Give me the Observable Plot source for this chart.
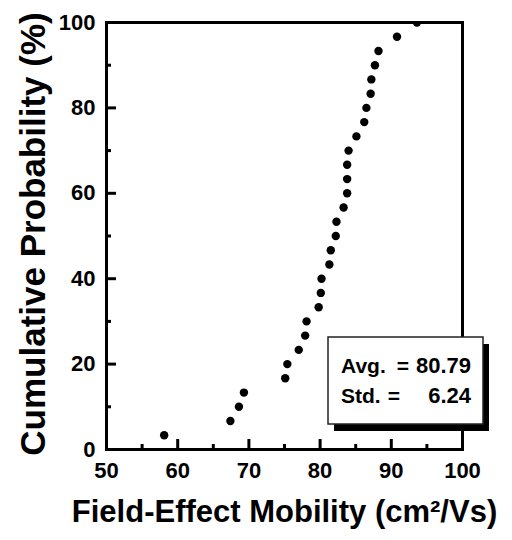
<!DOCTYPE html>
<html>
<head>
<meta charset="utf-8">
<script src="https://cdn.jsdelivr.net/npm/d3@7"></script>
<script src="https://cdn.jsdelivr.net/npm/@observablehq/plot@0.6"></script>
<style>
  html, body { margin: 0; padding: 0; background: #fff; }
  #chart { width: 512px; height: 540px; }
  svg { font-family: "Liberation Sans", Arial, sans-serif; }
</style>
</head>
<body>
<div id="chart"></div>
<script>
// Field-effect mobility of each device (cm²/Vs), sorted ascending
const mobility = [
  58.1, 67.4, 68.6, 69.3, 75.1, 75.4, 77.0, 77.9, 78.1, 79.8,
  80.1, 80.2, 81.3, 81.5, 82.2, 82.3, 83.3, 83.8, 83.8, 83.8,
  84.0, 85.1, 86.2, 86.5, 87.1, 87.2, 87.7, 88.2, 90.8, 93.6
];
// Cumulative probability (%) at each sorted device
const cumulative = [
  3.33, 6.67, 10.0, 13.33, 16.67, 20.0, 23.33, 26.67, 30.0, 33.33,
  36.67, 40.0, 43.33, 46.67, 50.0, 53.33, 56.67, 60.0, 63.33, 66.67,
  70.0, 73.33, 76.67, 80.0, 83.33, 86.67, 90.0, 93.33, 96.67, 100.0
];

const xMajorTicks = [50, 60, 70, 80, 90, 100];
const xMinorTicks = [55, 65, 75, 85, 95];
const yMajorTicks = [0, 20, 40, 60, 80, 100];
const yMinorTicks = [10, 30, 50, 70, 90];

const xTitle = "Field-Effect Mobility (cm\u00B2/Vs)";
const yTitle = "Cumulative Probability (%)";
const statLabels = ["Avg.", "Std."];
const statValues = ["80.79", "6.24"];

const points = mobility.map((m, i) => ({mobility: m, probability: cumulative[i]}));

const font = "Liberation Sans, Arial, sans-serif";

const chart = Plot.plot({
  width: 512,
  height: 540,
  marginLeft: 106,
  marginRight: 50,
  marginTop: 22,
  marginBottom: 91,
  style: {fontFamily: font, fontWeight: "bold", color: "#000", background: "#fff", overflow: "visible"},
  x: {domain: [50, 100]},
  y: {domain: [0, 100]},
  marks: [
    // inward tick marks
    Plot.axisX(xMajorTicks, {tickSize: 10, dy: -10, fill: "none", label: null, strokeWidth: 3}),
    Plot.axisX(xMinorTicks, {tickSize: 5, dy: -5, fill: "none", label: null, strokeWidth: 3}),
    Plot.axisY(yMajorTicks, {tickSize: 10, dx: 10, fill: "none", label: null, strokeWidth: 3}),
    Plot.axisY(yMinorTicks, {tickSize: 5, dx: 5, fill: "none", label: null, strokeWidth: 3}),
    // tick labels
    Plot.axisX(xMajorTicks, {tickSize: 0, tickPadding: 13, fontSize: 22, fontWeight: "bold", label: null}),
    Plot.axisY(yMajorTicks, {tickSize: 0, tickPadding: 11, fontSize: 22, fontWeight: "bold", label: null}),
    Plot.dot(points, {x: "mobility", y: "probability", r: 4.2, fill: "#000", stroke: "none", clip: true}),
    Plot.frame({strokeWidth: 3}),
    // axis titles
    Plot.text([xTitle], {frameAnchor: "bottom", textAnchor: "middle", lineAnchor: "middle", dy: 63, fontSize: 31, fontWeight: "bold", fill: "#000"}),
    Plot.text([yTitle], {frameAnchor: "left", textAnchor: "middle", lineAnchor: "middle", rotate: -90, dx: -73, dy: -2, fontSize: 35, fontWeight: "bold", fill: "#000"})
  ]
});

document.getElementById("chart").appendChild(chart);

// Summary statistics box with a drop shadow, near the lower-right corner
const svg = d3.select(chart);
const box = {left: 328, top: 337, width: 155, height: 87, shadow: 6};
const g = svg.append("g").attr("font-family", font).attr("font-weight", "bold");
g.append("rect")
  .attr("x", box.left + box.shadow).attr("y", box.top + box.shadow + 1)
  .attr("width", box.width).attr("height", box.height)
  .attr("fill", "#000");
g.append("rect")
  .attr("x", box.left).attr("y", box.top)
  .attr("width", box.width).attr("height", box.height)
  .attr("fill", "#fff").attr("stroke", "#222").attr("stroke-width", 1.5);
const eqX = [403, 394];
statLabels.forEach((lab, i) => {
  const base = box.top + 36 + i * 30;
  g.append("text").attr("x", box.left + 13).attr("y", base).attr("font-size", 21).attr("text-anchor", "start").text(lab);
  g.append("text").attr("x", eqX[i]).attr("y", base).attr("font-size", 21).attr("text-anchor", "middle").text("=");
  g.append("text").attr("x", box.left + 143).attr("y", base).attr("font-size", 22).attr("text-anchor", "end").text(statValues[i]);
});
</script>
</body>
</html>
